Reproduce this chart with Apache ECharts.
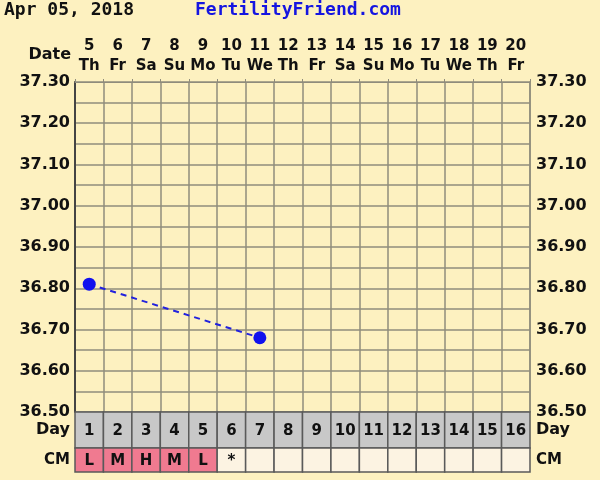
<!DOCTYPE html>
<html>
<head>
<meta charset="utf-8">
<script src="https://cdn.jsdelivr.net/npm/echarts@6/dist/echarts.min.js"></script>
<style>html,body{margin:0;padding:0;background:#fdf1c0;}#c{width:600px;height:480px;}</style>
</head>
<body>
<div id="c"></div>
<script>
var dates = ['5','6','7','8','9','10','11','12','13','14','15','16','17','18','19','20'];
var weekdays = ['Th','Fr','Sa','Su','Mo','Tu','We','Th','Fr','Sa','Su','Mo','Tu','We','Th','Fr'];
var cycleDays = ['1','2','3','4','5','6','7','8','9','10','11','12','13','14','15','16'];
var temps = [36.81, null, null, null, null, null, 36.68, null, null, null, null, null, null, null, null, null];
var cm = ['L','M','H','M','L','*','','','','','','','','','',''];
var yMin = 36.5, yMax = 37.3;
var headerDate = 'Apr 05, 2018';
var siteName = 'FertilityFriend.com';

var FONT = 'DejaVu Sans';
var bg = '#fdf1c0';
var gridColor = '#8f8c7c';
var xLabels = dates.map(function(d, i){ return d + '\n' + weekdays[i]; });
function yFmt(v){
  var t = v * 10;
  if (Math.abs(t - Math.round(t)) < 1e-6) return v.toFixed(2);
  return '';
}
var labelStyle = {fontFamily: FONT, fontWeight: 'bold', fontSize: 15, color: '#111'};
var yLabelStyle = {fontFamily: FONT, fontWeight: 'bold', fontSize: 16, color: '#111'};

var chart = echarts.init(document.getElementById('c'));
function cellSeries(xIdx, yIdx, texts, fillFn){
  return {
    type: 'custom', xAxisIndex: xIdx, yAxisIndex: yIdx,
    data: texts.map(function(t, i){ return [i, 0, t]; }),
    renderItem: function(params, api){
      var p = api.coord([api.value(0), 0]);
      var s = api.size([1, 1]);
      var txt = texts[params.dataIndex];
      return {
        type: 'group',
        children: [
          {type: 'rect', shape: {x: p[0] - s[0]/2, y: p[1] - s[1]/2, width: s[0], height: s[1]},
           style: {fill: fillFn(txt), stroke: '#5a5a5a', lineWidth: 1.5}},
          {type: 'text', style: {text: txt, x: p[0], y: p[1] + 1, align: 'center', verticalAlign: 'middle',
            font: 'bold 15px "' + FONT + '"', fill: '#111'}}
        ]
      };
    }
  };
}
var option = {
  backgroundColor: bg,
  animation: false,
  grid: [
    {left: 75, right: 70, top: 82, height: 330, show: true, backgroundColor: bg, borderWidth: 0},
    {left: 75, right: 70, top: 412, height: 36},
    {left: 75, right: 70, top: 448, height: 24}
  ],
  graphic: [
    {type: 'text', left: 4, top: 1, style: {text: headerDate, font: 'bold 18px "DejaVu Sans Mono"', fill: '#111'}},
    {type: 'text', left: 195, top: 1, style: {text: siteName, font: 'bold 18px "DejaVu Sans Mono"', fill: '#1515e0'}},
    {type: 'text', right: 529, top: 47, style: {text: 'Date', font: 'bold 16px "' + FONT + '"', fill: '#111', align: 'right'}}
  ],
  xAxis: [
    {type: 'category', gridIndex: 0, position: 'top', data: xLabels, boundaryGap: true,
     axisLine: {show: true, lineStyle: {color: gridColor, width: 1}},
     axisTick: {show: true, alignWithLabel: false, length: 3, lineStyle: {color: gridColor}},
     axisLabel: Object.assign({interval: 0, margin: 6, lineHeight: 20}, labelStyle),
     splitLine: {show: true, interval: 0, lineStyle: {color: gridColor, width: 1.5}}},
    {type: 'category', gridIndex: 1, data: cycleDays, show: false},
    {type: 'category', gridIndex: 2, data: cycleDays, show: false}
  ],
  yAxis: [
    {type: 'value', gridIndex: 0, min: yMin, max: yMax, interval: 0.05,
     axisLine: {show: true, lineStyle: {color: '#444', width: 2}},
     axisTick: {show: false},
     axisLabel: Object.assign({margin: 5, formatter: yFmt, showMinLabel: true, showMaxLabel: true}, yLabelStyle),
     splitLine: {show: true, lineStyle: {color: gridColor, width: 1.5}}},
    {type: 'value', gridIndex: 0, position: 'right', min: yMin, max: yMax, interval: 0.05,
     axisLine: {show: true, lineStyle: {color: gridColor, width: 1.5}},
     axisTick: {show: false},
     axisLabel: Object.assign({margin: 6, formatter: yFmt, showMinLabel: true, showMaxLabel: true}, yLabelStyle),
     splitLine: {show: false}},
    {type: 'category', gridIndex: 1, data: ['Day'], axisLine: {show: false}, axisTick: {show: false},
     axisLabel: Object.assign({margin: 5}, yLabelStyle)},
    {type: 'category', gridIndex: 1, position: 'right', data: ['Day'], axisLine: {show: false}, axisTick: {show: false},
     axisLabel: Object.assign({margin: 6}, yLabelStyle)},
    {type: 'category', gridIndex: 2, data: ['CM'], axisLine: {show: false}, axisTick: {show: false},
     axisLabel: Object.assign({margin: 5}, labelStyle)},
    {type: 'category', gridIndex: 2, position: 'right', data: ['CM'], axisLine: {show: false}, axisTick: {show: false},
     axisLabel: Object.assign({margin: 6}, labelStyle)}
  ],
  series: [
    {type: 'line', xAxisIndex: 0, yAxisIndex: 0, data: temps, connectNulls: true,
     symbol: 'circle', symbolSize: 13, itemStyle: {color: '#1111ee'},
     lineStyle: {color: '#2222dd', width: 2, type: [6, 5]}},
    cellSeries(1, 2, cycleDays, function(){ return '#c8c8c8'; }),
    cellSeries(2, 4, cm, function(t){ return /[LMH]/.test(t) ? '#f07a90' : '#fcf3e2'; })
  ]
};
chart.setOption(option);
</script>
</body>
</html>
